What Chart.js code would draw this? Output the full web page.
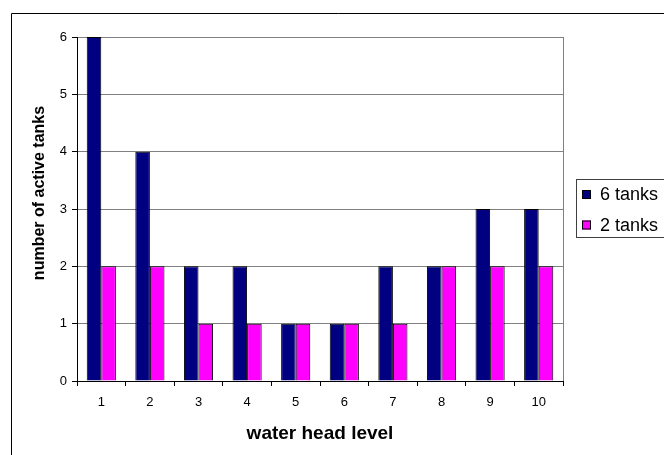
<!DOCTYPE html>
<html>
<head>
<meta charset="utf-8">
<script src="https://cdn.jsdelivr.net/npm/chart.js@4"></script>
<style>
  html, body { margin: 0; padding: 0; background: #ffffff; }
  #wrap { position: relative; width: 664px; height: 455px; overflow: hidden; }
  canvas { display: block; }
</style>
</head>
<body>
<div id="wrap"><canvas id="c" width="664" height="455"></canvas></div>
<script>
const categories = ['1', '2', '3', '4', '5', '6', '7', '8', '9', '10'];
const sixTanks = [6, 4, 2, 2, 1, 1, 2, 2, 3, 3];
const twoTanks = [2, 2, 1, 1, 1, 1, 1, 2, 2, 2];
const seriesNames = ['6 tanks', '2 tanks'];
const seriesColors = ['#000080', '#FF00FF'];
const yTicks = [0, 1, 2, 3, 4, 5, 6];
const xTitle = 'water head level';
const yTitle = 'number of active tanks';

const FONT = "'Liberation Sans', Arial, sans-serif";

const frame = {
  id: 'frame',
  beforeDraw(chart) {
    const ctx = chart.ctx;
    ctx.save();
    ctx.fillStyle = '#ffffff';
    ctx.fillRect(0, 0, chart.width, chart.height);
    ctx.restore();
  },
  afterDatasetsDraw(chart) {
    const ctx = chart.ctx;
    const a = chart.chartArea;
    ctx.save();
    ctx.strokeStyle = '#808080';
    ctx.lineWidth = 1;
    ctx.beginPath();
    ctx.moveTo(Math.round(a.right) + 0.5, a.top);
    ctx.lineTo(Math.round(a.right) + 0.5, a.bottom);
    ctx.stroke();
    ctx.restore();
  },
  afterDraw(chart) {
    const ctx = chart.ctx;
    ctx.save();
    // outer chart border (top + left, extends off-canvas)
    ctx.strokeStyle = '#000000';
    ctx.lineWidth = 1;
    ctx.beginPath();
    ctx.moveTo(11.5, chart.height + 2);
    ctx.lineTo(11.5, 13.5);
    ctx.lineTo(chart.width + 2, 13.5);
    ctx.stroke();

    // y axis title
    ctx.save();
    ctx.translate(40, 193);
    ctx.rotate(-Math.PI / 2);
    ctx.font = 'bold 16px ' + FONT;
    ctx.fillStyle = '#000000';
    ctx.textAlign = 'center';
    ctx.textBaseline = 'middle';
    ctx.fillText(yTitle, 0, 0);
    ctx.restore();

    // legend box
    ctx.strokeStyle = '#404040';
    ctx.strokeRect(576.5, 179.5, 100, 58);
    ctx.font = '18px ' + FONT;
    ctx.textBaseline = 'middle';
    ctx.textAlign = 'left';
    chart.data.datasets.forEach((ds, i) => {
      const cy = 194.5 + i * 30.5;
      ctx.fillStyle = ds.backgroundColor;
      ctx.fillRect(582, cy - 4.5, 9, 9);
      ctx.strokeStyle = '#000000';
      ctx.strokeRect(582.5, cy - 4, 8, 8);
      ctx.fillStyle = '#000000';
      ctx.fillText(ds.label, 600, cy + 1);
    });
    ctx.restore();
  }
};

new Chart(document.getElementById('c'), {
  type: 'bar',
  data: {
    labels: categories,
    datasets: [
      { label: seriesNames[0], data: sixTanks, backgroundColor: seriesColors[0], borderColor: '#000000', borderWidth: 1 },
      { label: seriesNames[1], data: twoTanks, backgroundColor: seriesColors[1], borderColor: '#000000', borderWidth: 1 }
    ]
  },
  options: {
    responsive: false,
    animation: false,
    devicePixelRatio: 1,
    layout: { padding: { top: 37, right: 101, left: 0, bottom: 0 } },
    datasets: { bar: { categoryPercentage: 0.6, barPercentage: 1.0 } },
    plugins: { legend: { display: false }, tooltip: { enabled: false } },
    scales: {
      x: {
        afterFit(scale) { scale.height = 74; },
        grid: { offset: true, drawOnChartArea: false, drawTicks: true, tickLength: 5, tickColor: '#000000' },
        border: { color: '#000000', width: 1 },
        ticks: { color: '#000000', font: { family: FONT, size: 13 }, padding: 9, maxRotation: 0 },
        title: { display: true, text: xTitle, color: '#000000', font: { family: FONT, size: 19, weight: 'bold' }, padding: { top: 0, bottom: 10 } }
      },
      y: {
        min: 0, max: 6,
        afterFit(scale) { scale.width = 77; },
        afterBuildTicks(scale) { scale.ticks = yTicks.map(v => ({ value: v })); },
        grid: { color: '#808080', drawTicks: true, tickLength: 5, tickColor: '#000000' },
        border: { color: '#000000', width: 1 },
        ticks: { color: '#000000', font: { family: FONT, size: 13 }, padding: 5 },
        title: { display: false }
      }
    }
  },
  plugins: [frame]
});
</script>
</body>
</html>
